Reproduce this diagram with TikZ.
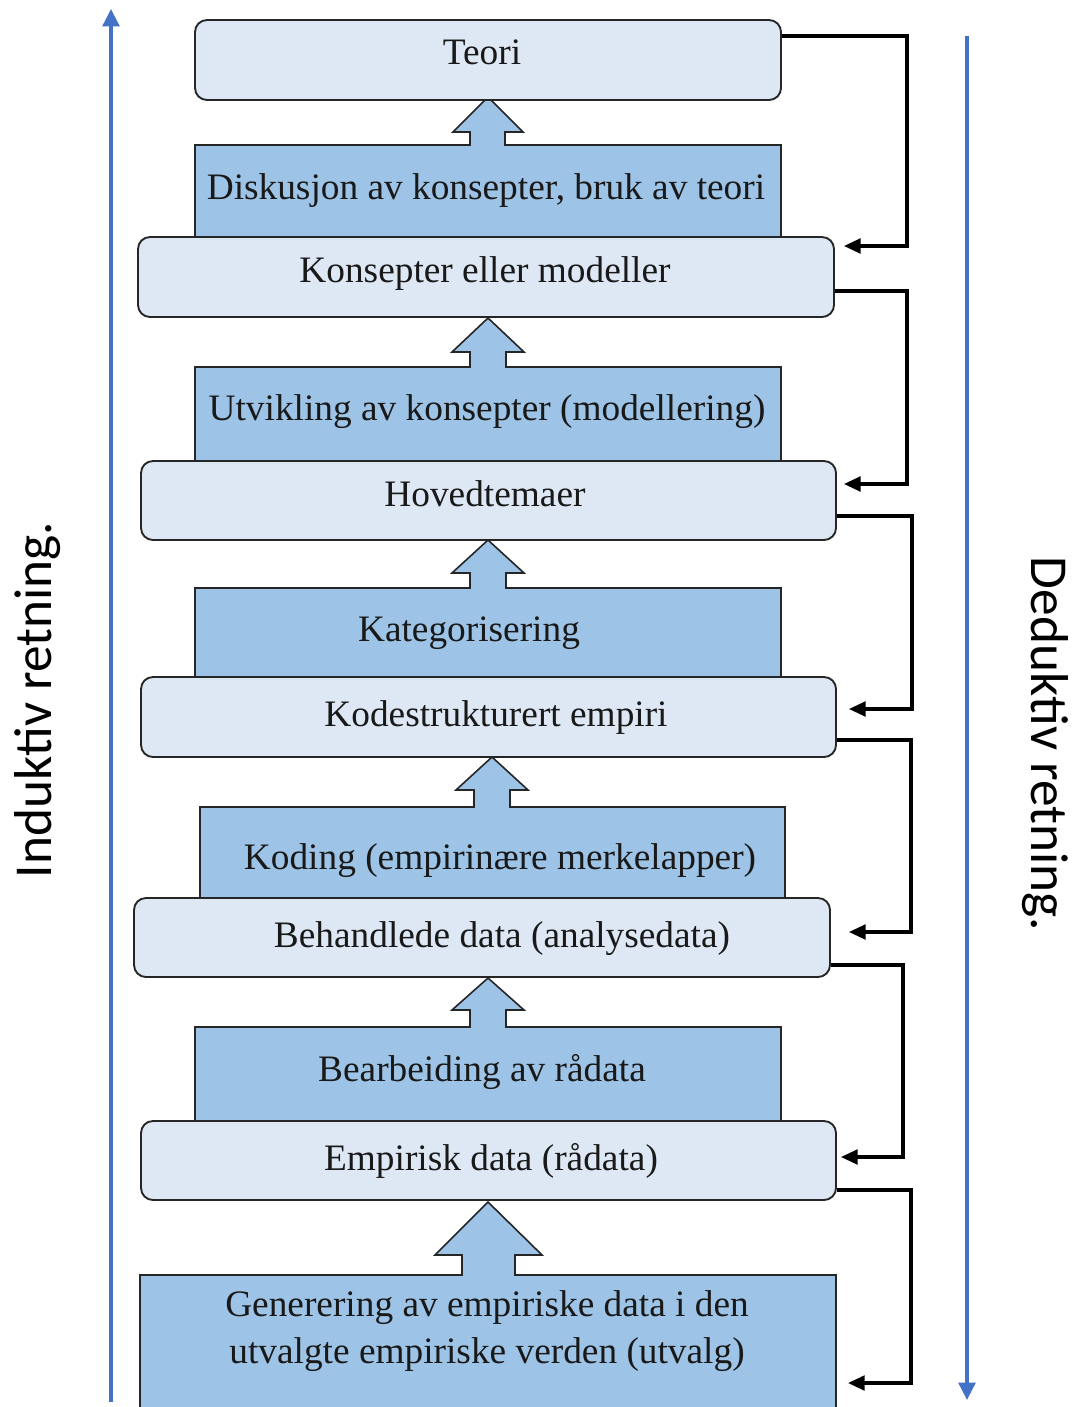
\documentclass[tikz,border=0pt]{standalone}
\usepackage{fontspec}
\setmainfont{Liberation Serif}
\newfontfamily\calib{Carlito}
\usetikzlibrary{arrows.meta,calc}
\definecolor{lightfill}{HTML}{DEE8F4}
\definecolor{darkfill}{HTML}{9DC3E6}
\definecolor{edgec}{HTML}{262626}
\definecolor{dirblue}{HTML}{4472C4}
\begin{document}
\begin{tikzpicture}[x=0.75pt,y=-0.75pt,
  lightbox/.style={draw=edgec,line width=1.4pt,fill=lightfill,rounded corners=9pt,inner sep=0pt},
  darkbox/.style={draw=edgec,line width=1.2pt,fill=darkfill,line join=miter},
  txt/.style={font=\fontsize{28pt}{33pt}\selectfont,text=black!90,inner sep=0pt,anchor=base},
  conn/.style={draw=black,line width=2.4pt,-{Triangle[length=12.5pt,width=11pt]}},
  dirarrow/.style={draw=dirblue,line width=2.6pt,-{Triangle[length=13pt,width=12.5pt]}},
  dirtext/.style={font=\calib\fontsize{40pt}{48pt}\selectfont,inner sep=0pt}]
\useasboundingbox (0,0) rectangle (1072,1407);
\fill[white] (0,0) rectangle (1072,1407);

% dark boxes with block arrows
\path[darkbox] (195,237) -- (195,145) -- (470,145) -- (470,132) -- (453,132) -- (488,97) -- (523,132) -- (505,132) -- (505,145) -- (781,145) -- (781,237) -- cycle;
\path[darkbox] (195,461) -- (195,367) -- (470,367) -- (470,352) -- (452,352) -- (488,318) -- (524,352) -- (506,352) -- (506,367) -- (781,367) -- (781,461) -- cycle;
\path[darkbox] (195,678) -- (195,588) -- (470,588) -- (470,573) -- (452,573) -- (488,540) -- (524,573) -- (506,573) -- (506,588) -- (781,588) -- (781,678) -- cycle;
\path[darkbox] (200,898) -- (200,807) -- (474,807) -- (474,790) -- (456,790) -- (492,757) -- (528,790) -- (510,790) -- (510,807) -- (785,807) -- (785,898) -- cycle;
\path[darkbox] (195,1121) -- (195,1027) -- (470,1027) -- (470,1010) -- (452,1010) -- (488,978) -- (524,1010) -- (506,1010) -- (506,1027) -- (781,1027) -- (781,1121) -- cycle;
\fill[darkfill] (140,1412) -- (140,1275) -- (462,1275) -- (462,1255) -- (435,1255) -- (488,1202) -- (542,1255) -- (515,1255) -- (515,1275) -- (836,1275) -- (836,1412) -- cycle;
\draw[edgec,line width=1.2pt] (140,1412) -- (140,1275) -- (462,1275) -- (462,1255) -- (435,1255) -- (488,1202) -- (542,1255) -- (515,1255) -- (515,1275) -- (836,1275) -- (836,1412);

% light boxes
\node[lightbox,minimum width=439.5pt,minimum height=60pt] (tbox) at (488,60) {};
\node[lightbox,minimum width=522pt,minimum height=60pt] (kbox) at (486,277) {};
\node[lightbox,minimum width=521.25pt,minimum height=59.25pt] (hbox) at (488.5,500.5) {};
\node[lightbox,minimum width=521.25pt,minimum height=60pt] (ksbox) at (488.5,717) {};
\node[lightbox,minimum width=522pt,minimum height=59.25pt] (bbox) at (482,937.5) {};
\node[lightbox,minimum width=521.25pt,minimum height=59.25pt] (ebox) at (488.5,1160.5) {};

% texts
\node[txt] (t1) at (482,64) {Teori};
\node[txt] (t2) at (486,199) {Diskusjon av konsepter, bruk av teori};
\node[txt] (t3) at (485,282) {Konsepter eller modeller};
\node[txt] (t4) at (487,420) {Utvikling av konsepter (modellering)};
\node[txt] (t5) at (485,506) {Hovedtemaer};
\node[txt] (t6) at (469,641) {Kategorisering};
\node[txt] (t7) at (496,726) {Kodestrukturert empiri};
\node[txt] (t8) at (500,869) {Koding (empirinære merkelapper)};
\node[txt] (t9) at (502,947) {Behandlede data (analysedata)};
\node[txt] (t10) at (482,1081) {Bearbeiding av rådata};
\node[txt] (t11) at (491,1170) {Empirisk data (rådata)};
\node[txt] (t12) at (487,1316) {Generering av empiriske data i den};
\node[txt] (t13) at (487,1363) {utvalgte empiriske verden (utvalg)};

% right-side feedback connectors
\coordinate (r1) at (907,0);
\coordinate (r2) at (907,0);
\coordinate (r3) at (912,0);
\coordinate (r4) at (911,0);
\coordinate (r5) at (903,0);
\coordinate (r6) at (911,0);
\coordinate (a1) at ($(tbox.east)+(0,-24)$);
\coordinate (b1) at ($(kbox.east)+(9,-31)$);
\coordinate (a2) at ($(kbox.east)+(0,14)$);
\coordinate (b2) at ($(hbox.east)+(7,-16.5)$);
\coordinate (a3) at ($(hbox.east)+(0,15.5)$);
\coordinate (b3) at ($(ksbox.east)+(12,-8)$);
\coordinate (a4) at ($(ksbox.east)+(0,23)$);
\coordinate (b4) at ($(bbox.east)+(18,-5.5)$);
\coordinate (a5) at ($(bbox.east)+(0,27.5)$);
\coordinate (b5) at ($(ebox.east)+(4,-3.5)$);
\coordinate (a6) at ($(ebox.east)+(0,29.5)$);
\coordinate (b6) at (848,1383);
\draw[conn] (a1) -- (a1 -| r1) |- (b1);
\draw[conn] (a2) -- (a2 -| r2) |- (b2);
\draw[conn] (a3) -- (a3 -| r3) |- (b3);
\draw[conn] (a4) -- (a4 -| r4) |- (b4);
\draw[conn] (a5) -- (a5 -| r5) |- (b5);
\draw[conn] (a6) -- (a6 -| r6) |- (b6);

% direction arrows
\coordinate (indBot) at (111,1402);
\coordinate (indTop) at (111,9);
\draw[dirarrow] (indBot) -- (indTop);
\coordinate (dedTop) at (967,36);
\coordinate (dedBot) at (967,1400);
\draw[dirarrow] (dedTop) -- (dedBot);
\node[dirtext,rotate=90] (ind) at (38,700) {Induktiv retning.};
\node[dirtext,rotate=-90] (ded) at (1045,744) {Deduktiv retning.};
\end{tikzpicture}
\end{document}
